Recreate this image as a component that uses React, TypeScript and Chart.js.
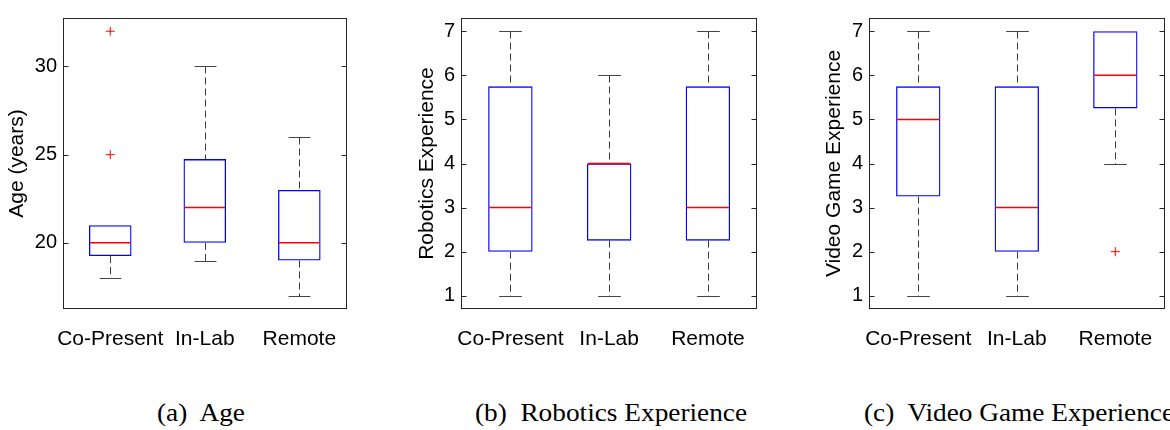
import React, { useEffect, useRef } from 'react';
import { Chart, registerables } from 'chart.js';

Chart.register(...registerables);

// ---------- data ----------
const categories = ['Co-Present', 'In-Lab', 'Remote'];

const ageQ1 = [19.25, 20, 19];
const ageQ3 = [21, 24.75, 23];
const ageMedian = [20, 22, 20];
const ageLowerWhisker = [18, 19, 17];
const ageUpperWhisker = [21, 30, 26];
const ageOutlierCategories = ['Co-Present', 'Co-Present'];
const ageOutlierValues = [32, 25];
const ageTicks = [20, 25, 30];
const ageRange = [16.25, 32.75];

const roboticsQ1 = [2, 2.25, 2.25];
const roboticsQ3 = [5.75, 4, 5.75];
const roboticsMedian = [3, 4, 3];
const roboticsLowerWhisker = [1, 1, 1];
const roboticsUpperWhisker = [7, 6, 7];
const roboticsOutlierCategories: string[] = [];
const roboticsOutlierValues: number[] = [];
const experienceTicks = [1, 2, 3, 4, 5, 6, 7];
const experienceRange = [0.7, 7.3];

const videoQ1 = [3.25, 2, 5.25];
const videoQ3 = [5.75, 5.75, 7];
const videoMedian = [5, 3, 6];
const videoLowerWhisker = [1, 1, 4];
const videoUpperWhisker = [7, 7, 7];
const videoOutlierCategories = ['Remote'];
const videoOutlierValues = [2];

const SANS = "'Liberation Sans', Arial, Helvetica, sans-serif";
const SERIF = "'Liberation Serif', 'Times New Roman', serif";

type PanelProps = {
  left: number;
  width: number;
  yWidth: number;
  top: number;
  title: string;
  q1: number[];
  q3: number[];
  median: number[];
  lo: number[];
  hi: number[];
  outCats: string[];
  outVals: number[];
  ticks: number[];
  range: number[];
};

function BoxPanel(p: PanelProps) {
  const ref = useRef<HTMLCanvasElement | null>(null);
  useEffect(() => {
    const canvas = ref.current;
    if (!canvas) return;

    const whiskerPlugin = {
      id: 'whiskers',
      beforeDatasetsDraw(chart: any) {
        const { ctx, scales } = chart;
        const x = scales.x;
        const y = scales.y;
        const spacing = x.getPixelForValue(1) - x.getPixelForValue(0);
        const capHalf = spacing * 0.115;
        ctx.save();
        ctx.lineWidth = 1;
        for (let i = 0; i < categories.length; i++) {
          const cx = Math.round(x.getPixelForValue(i)) + 0.5;
          const yQ1 = y.getPixelForValue(p.q1[i]);
          const yQ3 = y.getPixelForValue(p.q3[i]);
          const yLo = Math.round(y.getPixelForValue(p.lo[i])) + 0.5;
          const yHi = Math.round(y.getPixelForValue(p.hi[i])) + 0.5;
          ctx.setLineDash([7, 4]);
          ctx.strokeStyle = '#3a3a3a';
          if (p.hi[i] > p.q3[i]) {
            ctx.beginPath();
            ctx.moveTo(cx, yHi);
            ctx.lineTo(cx, yQ3);
            ctx.stroke();
          }
          if (p.lo[i] < p.q1[i]) {
            ctx.beginPath();
            ctx.moveTo(cx, yQ1);
            ctx.lineTo(cx, yLo);
            ctx.stroke();
          }
          ctx.setLineDash([]);
          ctx.strokeStyle = '#444444';
          ctx.beginPath();
          if (p.hi[i] > p.q3[i]) {
            ctx.moveTo(cx - capHalf, yHi);
            ctx.lineTo(cx + capHalf, yHi);
          }
          if (p.lo[i] < p.q1[i]) {
            ctx.moveTo(cx - capHalf, yLo);
            ctx.lineTo(cx + capHalf, yLo);
          }
          ctx.stroke();
        }
        ctx.restore();
      },
      afterDatasetsDraw(chart: any) {
        const { ctx, scales, chartArea } = chart;
        const y = scales.y;
        const meta = chart.getDatasetMeta(0);
        ctx.save();
        ctx.setLineDash([]);
        ctx.lineWidth = 1.5;
        ctx.strokeStyle = '#ff0000';
        for (let i = 0; i < categories.length; i++) {
          const bar: any = meta.data[i];
          const half = bar.width / 2;
          const ym = y.getPixelForValue(p.median[i]);
          ctx.beginPath();
          ctx.moveTo(bar.x - half + 1, ym);
          ctx.lineTo(bar.x + half - 1, ym);
          ctx.stroke();
        }
        // frame
        ctx.lineWidth = 1;
        const l = Math.round(chartArea.left) + 0.5;
        const r = Math.round(chartArea.right) - 0.5;
        const t = Math.round(chartArea.top) + 0.5;
        const b = Math.round(chartArea.bottom) - 0.5;
        ctx.strokeStyle = '#262626';
        ctx.strokeRect(l, t, r - l, b - t);
        // inward ticks on both sides
        ctx.beginPath();
        for (const tk of y.ticks) {
          const ty = Math.round(y.getPixelForValue(tk.value)) + 0.5;
          ctx.moveTo(l, ty);
          ctx.lineTo(l + 5, ty);
          ctx.moveTo(r, ty);
          ctx.lineTo(r - 5, ty);
        }
        ctx.stroke();
        ctx.restore();
      },
    };

    const chart = new Chart(canvas, {
      type: 'bar',
      data: {
        labels: categories,
        datasets: [
          {
            type: 'bar',
            data: p.q1.map((v, i) => [v, p.q3[i]]),
            backgroundColor: 'rgba(0,0,0,0)',
            borderColor: '#0000ff',
            borderWidth: 1.3,
            borderSkipped: false,
            barPercentage: 0.45,
            categoryPercentage: 1,
            order: 2,
          } as any,
          {
            type: 'line',
            data: p.outCats.map((c, i) => ({ x: c, y: p.outVals[i] })),
            showLine: false,
            pointStyle: 'cross',
            pointRadius: 4.5,
            pointBorderWidth: 1,
            borderColor: '#ff0000',
            backgroundColor: '#ff0000',
            order: 1,
          } as any,
        ],
      },
      options: {
        responsive: false,
        animation: false,
        events: [],
        layout: { padding: { top: p.top, right: 2, left: 0, bottom: 0 } },
        plugins: {
          legend: { display: false },
          tooltip: { enabled: false },
          title: { display: false },
        },
        scales: {
          x: {
            type: 'category',
            offset: true,
            grid: { display: false, drawTicks: false },
            border: { display: false },
            ticks: {
              color: '#000',
              font: { family: SANS, size: 21 },
              padding: 18,
              maxRotation: 0,
              autoSkip: false,
            },
            afterFit: (s: any) => {
              s.height = 61;
            },
          },
          y: {
            type: 'linear',
            min: p.range[0],
            max: p.range[1],
            grid: { display: false, drawTicks: false },
            border: { display: false },
            ticks: {
              color: '#000',
              font: { family: SANS, size: 20 },
              padding: 6,
            },
            afterBuildTicks: (s: any) => {
              s.ticks = p.ticks.map((v) => ({ value: v }));
            },
            afterFit: (s: any) => {
              s.width = p.yWidth;
            },
            title: {
              display: true,
              text: p.title,
              color: '#000',
              font: { family: SANS, size: 21, lineHeight: 1.2 },
              padding: { top: 5, bottom: 0 },
            },
          },
        },
      } as any,
      plugins: [whiskerPlugin],
    });
    return () => chart.destroy();
  }, []);

  return (
    <canvas
      ref={ref}
      width={p.width}
      height={370}
      style={{ position: 'absolute', left: p.left, top: 0, width: p.width, height: 370 }}
    />
  );
}

function Caption({ cx, text }: { cx: number; text: string }) {
  return (
    <div
      style={{
        position: 'absolute',
        left: cx,
        top: 400,
        transform: 'translateX(-50%) scaleX(1.05)',
        fontFamily: SERIF,
        fontSize: 26,
        lineHeight: 1,
        whiteSpace: 'pre',
        color: '#000',
      }}
    >
      {text}
    </div>
  );
}

export default function App() {
  return (
    <>
      <style>{'body{margin:0;background:#fff}'}</style>
      <div style={{ position: 'relative', width: 1170, height: 430, overflow: 'hidden', background: '#fff' }}>
        <BoxPanel
          left={0}
          width={355}
          yWidth={63}
          top={10}
          title="Age (years)"
          q1={ageQ1}
          q3={ageQ3}
          median={ageMedian}
          lo={ageLowerWhisker}
          hi={ageUpperWhisker}
          outCats={ageOutlierCategories}
          outVals={ageOutlierValues}
          ticks={ageTicks}
          range={ageRange}
        />
        <BoxPanel
          left={410}
          width={353}
          yWidth={51}
          top={9}
          title="Robotics Experience"
          q1={roboticsQ1}
          q3={roboticsQ3}
          median={roboticsMedian}
          lo={roboticsLowerWhisker}
          hi={roboticsUpperWhisker}
          outCats={roboticsOutlierCategories}
          outVals={roboticsOutlierValues}
          ticks={experienceTicks}
          range={experienceRange}
        />
        <BoxPanel
          left={817}
          width={354}
          yWidth={52}
          top={9}
          title="Video Game Experience"
          q1={videoQ1}
          q3={videoQ3}
          median={videoMedian}
          lo={videoLowerWhisker}
          hi={videoUpperWhisker}
          outCats={videoOutlierCategories}
          outVals={videoOutlierValues}
          ticks={experienceTicks}
          range={experienceRange}
        />
        <Caption cx={201} text="(a)  Age" />
        <Caption cx={611} text="(b)  Robotics Experience" />
        <Caption cx={1019} text="(c)  Video Game Experience" />
      </div>
    </>
  );
}
